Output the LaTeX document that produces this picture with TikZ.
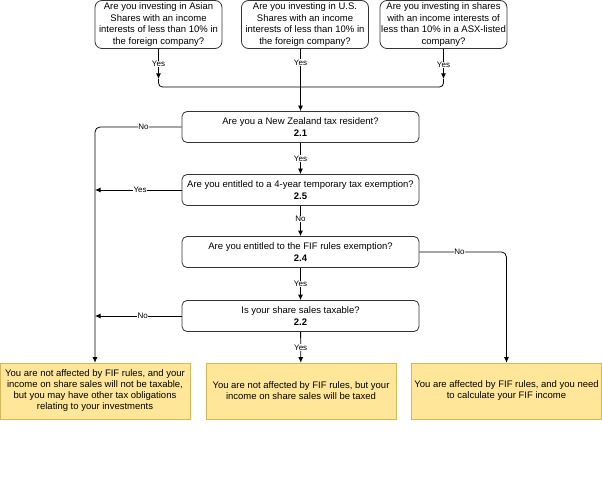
\documentclass[tikz,border=0pt]{standalone}
\usepackage{fontspec}
\setmainfont{Liberation Sans}
\usetikzlibrary{arrows.meta,positioning}
\definecolor{gelb}{RGB}{255,230,153}
\definecolor{gelbrand}{RGB}{214,182,86}
\definecolor{rand}{RGB}{51,51,51}
\tikzset{
	question/.style={draw=rand, line width=0.8pt, rounded corners=7pt, fill=white,
		minimum width=127pt, minimum height=48pt, inner sep=0pt,
		align=center, font=\fontsize{9.5}{11.5}\selectfont},
	decision/.style={draw=rand, line width=0.8pt, rounded corners=5pt, fill=white,
		minimum width=237pt, minimum height=31pt, inner sep=1pt,
		align=center, font=\fontsize{9.5}{12}\selectfont},
	outcome/.style={draw=gelbrand, line width=0.6pt, fill=gelb,
		minimum width=190pt, minimum height=56pt, inner sep=0pt,
		align=center, font=\fontsize{9.5}{11}\selectfont},
	lbl/.style={fill=white, inner sep=0.5pt, font=\fontsize{8}{9}\selectfont}
}

\begin{document}
\begin{tikzpicture}[x=1pt,y=-1pt,>={Latex[length=5.5pt,width=5pt]},line width=0.8pt]
\useasboundingbox (0,0) rectangle (602,497);

% questions at the top
\node[question] (asian) at (158.5,24.5) {Are you investing in Asian\\Shares with an income\\interests of less than 10\% in\\the foreign company?};
\node[question] (us) at (305,24.5) {Are you investing in U.S.\\Shares with an income\\interests of less than 10\% in\\the foreign company?};
\node[question] (asx) at (443.5,24.5) {Are you investing in shares\\with an income interests of\\less than 10\% in a ASX-listed\\company?};

% decisions
\node[decision] (resident) at (300.5,127) {Are you a New Zealand tax resident?\\\textbf{2.1}};
\node[decision] (temp) at (300.5,190) {Are you entitled to a 4-year temporary tax exemption?\\\textbf{2.5}};
\node[decision] (fif) at (300.5,252) {Are you entitled to the FIF rules exemption?\\\textbf{2.4}};
\node[decision] (taxable) at (300.5,316) {Is your share sales taxable?\\\textbf{2.2}};

% outcomes
\node[outcome] (notaffected) at (95,391) {You are not affected by FIF rules, and your\\income on share sales will not be taxable,\\but you may have other tax obligations\\relating to your investments};
\node[outcome] (taxed) at (301,391) {You are not affected by FIF rules, but your\\income on share sales will be taxed};
\node[outcome] (affected) at (506.5,391) {You are affected by FIF rules, and you need\\to calculate your FIF income};

\coordinate (join) at (300.5,87);

\draw[->] (asian.south) -- node[lbl]{Yes} ++(0,30) coordinate (ta);
\draw[rounded corners=4pt] (ta) |- (join);
\draw[->] (asx.south) -- node[lbl,yshift=-1pt]{Yes} ++(0,30) coordinate (tb);
\draw[rounded corners=4pt] (tb) |- (join);
\draw[->] (us.south -| join) -- node[lbl,pos=0.22]{Yes} (resident.north);

\draw[->,rounded corners=5pt] (resident.west) -| node[lbl,pos=0.22]{No} (notaffected.north);
\draw[->] (resident) -- node[lbl]{Yes} (temp);
\draw[->] (temp.west) -- node[lbl,pos=0.48]{Yes} (temp.west -| notaffected.north);
\draw[->] (temp) -- node[lbl,pos=0.43]{No} (fif);
\draw[->,rounded corners=5pt] (fif.east) -| node[lbl,pos=0.23]{No} (affected.north);
\draw[->] (fif) -- node[lbl]{Yes} (taxable);
\draw[->] (taxable.west) -- node[lbl,pos=0.45]{No} (taxable.west -| notaffected.north);
\draw[->] (taxable) -- node[lbl]{Yes} (taxed);

\end{tikzpicture}
\end{document}
